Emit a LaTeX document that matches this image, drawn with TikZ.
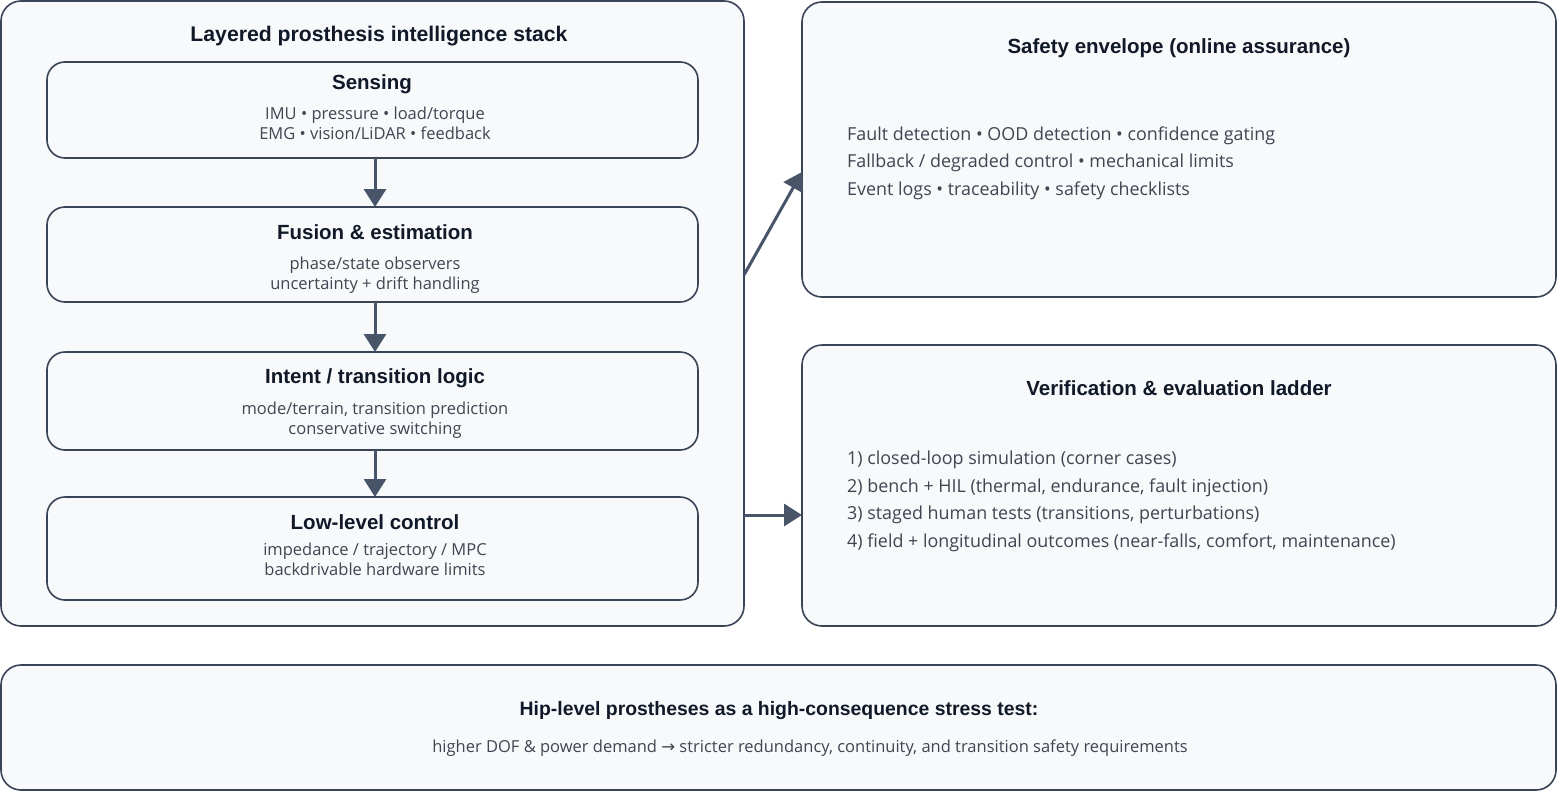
\documentclass[tikz,border=0pt]{standalone}
\usepackage{fontspec}
\setmainfont{Open Sans}
\newfontfamily\headfont{Liberation Sans}
\newfontfamily\symfont{DejaVu Sans}
\usetikzlibrary{arrows.meta}
\definecolor{strokec}{HTML}{3A4457}
\definecolor{fillc}{HTML}{F7F9FB}
\definecolor{titlec}{HTML}{111827}
\definecolor{bodyc}{HTML}{3F4652}
\definecolor{arrowc}{HTML}{485468}
\tikzset{
  panel/.style={draw=strokec, line width=1.6pt, fill=fillc, rounded corners=20pt},
  layer/.style={draw=strokec, line width=1.6pt, fill=fillc, rounded corners=18pt},
  ttl/.style={font=\headfont\bfseries\fontsize{21.2}{24}\selectfont, text=titlec, inner sep=0pt, anchor=base},
  lttl/.style={ttl, font=\headfont\bfseries\fontsize{20.5}{24}\selectfont},
  bttl/.style={ttl, font=\headfont\bfseries\fontsize{19.4}{24}\selectfont},
  body/.style={font=\fontsize{16.5}{19.5}\selectfont, text=bodyc, inner sep=0pt, align=center, anchor=base},
  lbody/.style={font=\fontsize{17.9}{27.4}\selectfont, text=bodyc, inner sep=0pt, align=left, anchor=base west},
  conn/.style={draw=arrowc, line width=3pt, -{Triangle[length=18pt,width=22pt]}, shorten >=0pt},
}
\begin{document}
\begin{tikzpicture}[x=1pt,y=-1pt]
\useasboundingbox (0,0) rectangle (1557,792);
\fill[white] (0,0) rectangle (1557,792);
% left panel
\draw[panel] (1,1) rectangle (744,626);
\node[coordinate] (lpR) at (744,275) {};
\node[coordinate] (lpR2) at (744,515) {};
\node[ttl] (lptitle) at (379,42) {Layered prosthesis intelligence stack};
% layers
\draw[layer] (47,62) rectangle (698,158);
\node[coordinate] (s1b) at (375,158) {};
\node[lttl] (s1t) at (372,89) {Sensing};
\node[body] (s1l) at (375,139) {IMU • pressure • load/torque\\EMG • vision/LiDAR • feedback};
\draw[layer] (47,207) rectangle (698,302);
\node[coordinate] (s2t0) at (375,207) {};
\node[coordinate] (s2b) at (375,302) {};
\node[lttl] (s2t) at (375,239) {Fusion \& estimation};
\node[body] (s2l) at (375,289) {phase/state observers\\uncertainty + drift handling};
\draw[layer] (47,352) rectangle (698,450);
\node[coordinate] (s3t0) at (375,352) {};
\node[coordinate] (s3b) at (375,450) {};
\node[lttl] (s3t) at (375,383) {Intent / transition logic};
\node[body] (s3l) at (375,434) {mode/terrain, transition prediction\\conservative switching};
\draw[layer] (47,497) rectangle (698,600);
\node[coordinate] (s4t0) at (375,497) {};
\node[lttl] (s4t) at (375,529) {Low-level control};
\node[body] (s4l) at (375,575) {impedance / trajectory / MPC\\backdrivable hardware limits};
\draw[conn] (s1b) -- (s2t0);
\draw[conn] (s2b) -- (s3t0);
\draw[conn] (s3b) -- (s4t0);
% safety
\draw[panel] (802,2) rectangle (1556,297);
\node[coordinate] (safL) at (802,172) {};
\node[lttl] (saft) at (1179,53) {Safety envelope (online assurance)};
\node[lbody] (safl) at (847,195) {Fault detection • OOD detection • confidence gating\\Fallback / degraded control • mechanical limits\\Event logs • traceability • safety checklists};
% verification
\draw[panel] (802,345) rectangle (1556,626);
\node[coordinate] (verL) at (802,515) {};
\node[lttl] (vert) at (1179,395) {Verification \& evaluation ladder};
\node[lbody] (verl) at (847,547) {1) closed-loop simulation (corner cases)\\2) bench + HIL (thermal, endurance, fault injection)\\3) staged human tests (transitions, perturbations)\\4) field + longitudinal outcomes (near-falls, comfort, maintenance)};
\draw[conn] (lpR) -- (safL);
\draw[conn] (lpR2) -- (verL);
% bottom
\draw[panel] (1,665) rectangle (1556,790);
\node[bttl] (bt) at (779,715) {Hip-level prostheses as a high-consequence stress test:};
\node[body] (bl) at (810,752) {higher DOF \& power demand {\symfont →} stricter redundancy, continuity, and transition safety requirements};
\end{tikzpicture}
\end{document}
